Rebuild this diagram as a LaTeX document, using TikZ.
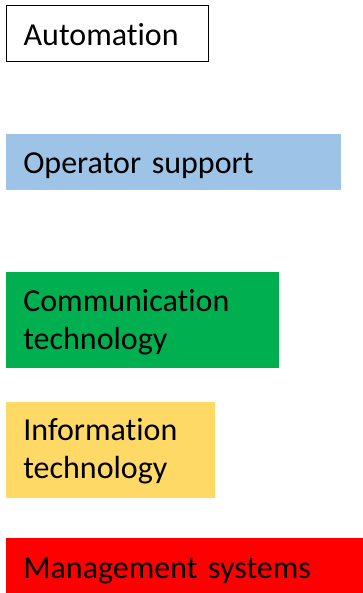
\documentclass[tikz,border=0pt]{standalone}
\usepackage{fontspec}
\setmainfont{Carlito}[Ligatures={NoCommon},WordSpace=0.85]
\usetikzlibrary{positioning}
\definecolor{opblue}{HTML}{9DC3E6}
\definecolor{comgreen}{HTML}{00B050}
\definecolor{infoyellow}{HTML}{FFD966}
\definecolor{mgmtred}{HTML}{FF0000}

\begin{document}
\begin{tikzpicture}[x=1pt,y=-1pt,
    layer/.style={anchor=north west,inner xsep=17.5pt,inner ysep=0pt,align=left,
      text height=24pt,text depth=0pt,font=\fontsize{32}{38}\selectfont},
    twoline/.style={text depth=42pt,minimum height=96pt}]
    \useasboundingbox (0,0) rectangle (363,593);
    \node[layer,draw=black,line width=1.2pt,text width=167pt,minimum height=56pt] (auto) at (5.6,4.6) {Automation};
    \node[layer,fill=opblue,text width=300pt,minimum height=56pt] (op) [below=72pt of auto.south west,anchor=north west] {Operator support};
    \node[layer,twoline,fill=comgreen,text width=238pt] (com) [below=82pt of op.south west,anchor=north west] {Communication\\technology};
    \node[layer,twoline,fill=infoyellow,text width=174pt] (info) [below=33pt of com.south west,anchor=north west] {Information\\technology};
    \node[layer,fill=mgmtred,text width=323pt,minimum height=57pt] (mgmt) [below=40pt of info.south west,anchor=north west] {Management systems};
  \end{tikzpicture}
\end{document}
